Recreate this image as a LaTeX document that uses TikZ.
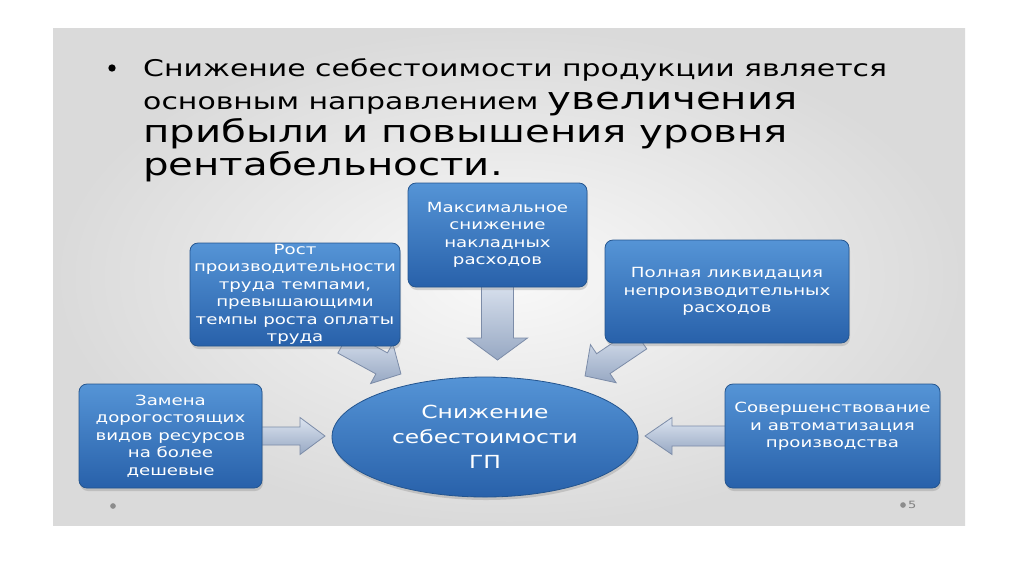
\documentclass[tikz,border=0pt]{standalone}
\usepackage{fontspec}
\setmainfont{DejaVu Sans}[FakeStretch=1.3]
\usetikzlibrary{shapes.geometric,shadows,backgrounds,calc}

\pgfdeclarelayer{slide}
\pgfsetlayers{slide,background,main}

\definecolor{boxtop}{HTML}{5594D6}
\definecolor{boxbot}{HTML}{2861AA}
\definecolor{boxedge}{HTML}{24558F}
\definecolor{arrowlight}{HTML}{DCE4F0}
\definecolor{arrowdark}{HTML}{97A8C3}
\definecolor{arrowedge}{HTML}{7C8CA8}
\definecolor{slideouter}{HTML}{DADADA}
\definecolor{slideinner}{HTML}{F9F9F9}

% block arrow: from, to, shaft width, head width, head length
\newcommand\blockarrow[5]{%
  \path let \p1=(#1), \p2=(#2),
        \n1={atan2(\y2-\y1,\x2-\x1)}, \n2={veclen(\x2-\x1,\y2-\y1)}
    in \pgfextra{\xdef\arrang{\n1}\xdef\arrlen{\n2}\xdef\arrx{\x1}\xdef\arry{\y1}};
  \begin{scope}[shift={(\arrx,\arry)},rotate=\arrang]
    \draw[arrowbody] (-8,-#3/2) -- (\arrlen-#5,-#3/2) -- (\arrlen-#5,-#4/2) -- (\arrlen,0)
      -- (\arrlen-#5,#4/2) -- (\arrlen-#5,#3/2) -- (-8,#3/2) -- cycle;
  \end{scope}}

\begin{document}
\begin{tikzpicture}[x=1pt,y=-1pt,
  box/.style={rectangle,rounded corners=8pt,draw=boxedge,line width=0.8pt,
    top color=boxtop,bottom color=boxbot,text=white,align=center,inner sep=0pt,
    font=\fontsize{14}{17.5}\selectfont,
    drop shadow={opacity=0.3,shadow xshift=1pt,shadow yshift=-3pt}},
  arrowbody/.style={draw=arrowedge,line width=0.8pt,line join=miter,
    top color=arrowlight,bottom color=arrowdark},
  titleline/.style={anchor=base west,inner sep=0pt,text=black}]

\useasboundingbox (0,0) rectangle (1024,574);

\begin{pgfonlayer}{slide}
\fill[white] (0,0) rectangle (1024,574);
\shade[inner color=slideinner,outer color=slideouter] (53,28) rectangle (965,525);
\end{pgfonlayer}

%TITLE
\node[circle,fill=black,inner sep=2.6pt] (bul) at (112,68) {};
\node[titleline,font=\fontsize{23}{28}\selectfont] (t1) at (143,76) {Снижение себестоимости продукции является};
\node[titleline,font=\fontsize{23}{28}\selectfont] (t2) at (143,109) {основным направлением {\fontsize{31}{36}\selectfont увеличения}};
\node[titleline,font=\fontsize{31}{36}\selectfont] (t3) at (143,142) {прибыли и повышения уровня};
\node[titleline,font=\fontsize{31}{36}\selectfont] (t4) at (143,175) {рентабельности.};

%BOXES
\node[box,minimum width=179,minimum height=104] (maxs) at (497.5,235) {Максимальное\\снижение\\накладных\\расходов};
\node[box,minimum width=210,minimum height=103] (rost) at (295,294.5) {Рост\\производительности\\труда темпами,\\превышающими\\темпы роста оплаты\\труда};
\node[box,minimum width=244,minimum height=103] (poln) at (727,291.5) {Полная ликвидация\\непроизводительных\\расходов};
\node[box,minimum width=183,minimum height=104] (zam) at (170.5,436) {Замена\\дорогостоящих\\видов ресурсов\\на более\\дешевые};
\node[box,minimum width=215,minimum height=104] (sov) at (832.5,436) {Совершенствование\\и автоматизация\\производства\\[4pt]~};
\node[box,ellipse,minimum width=306,minimum height=120,font=\fontsize{18}{25}\selectfont] (ell) at (485,437) {Снижение\\себестоимости\\ГП};

%ARROWS
\coordinate (tmaxs) at (497.5,360);
\coordinate (trost) at (401,374);
\coordinate (tpoln) at (585,376);
\coordinate (tzam) at (325,436);
\coordinate (tsov) at (645,436);

\begin{pgfonlayer}{background}
\blockarrow{maxs.south}{tmaxs}{32}{60}{22}
\blockarrow{rost.-43}{trost}{24}{46}{22}
\blockarrow{poln.-151}{tpoln}{24}{46}{22}
\blockarrow{zam.east}{tzam}{18}{37}{25}
\blockarrow{sov.west}{tsov}{20}{37}{27}
\end{pgfonlayer}

%FOOTER
\node[circle,fill=black!45,inner sep=2pt] (d1) at (113,506) {};
\node[circle,fill=black!45,inner sep=2pt] (d2) at (903,505) {};
\node[anchor=west,inner sep=0pt,text=black!50,font=\fontsize{10}{12}\selectfont] (num) at (908,505) {5};

\end{tikzpicture}
\end{document}
